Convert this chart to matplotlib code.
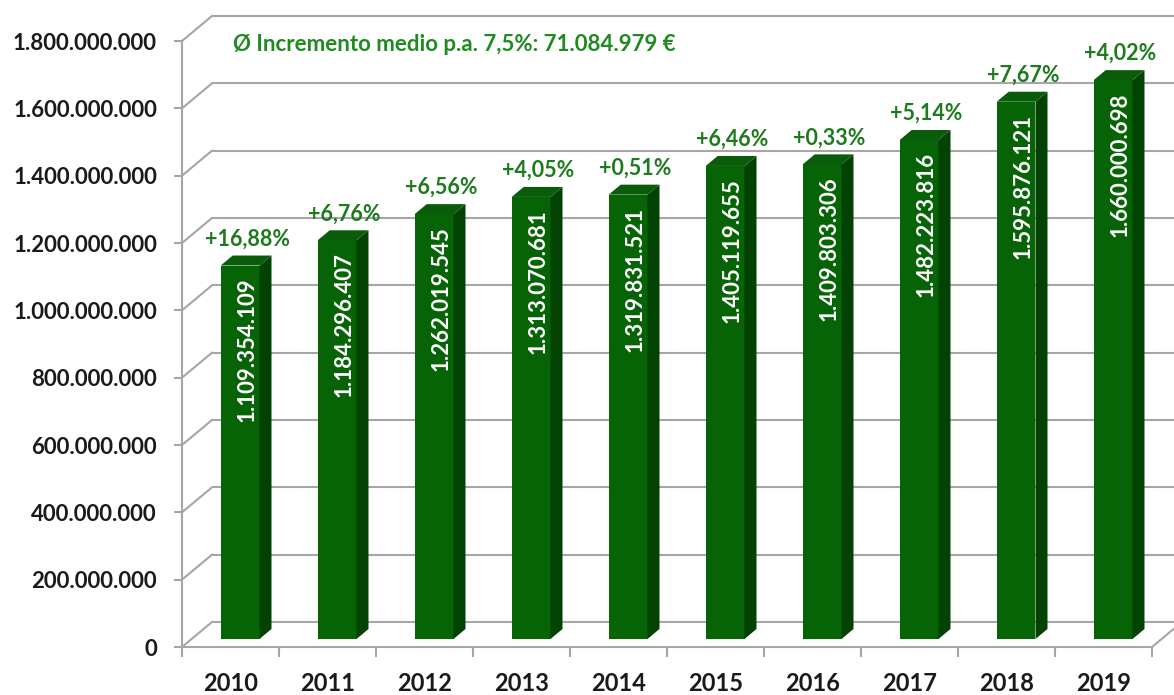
import matplotlib
matplotlib.use("Agg")
import matplotlib.pyplot as plt
from matplotlib.patches import Polygon
from matplotlib.ticker import FixedLocator, NullFormatter

years = ["2010", "2011", "2012", "2013", "2014", "2015", "2016", "2017", "2018", "2019"]
values = [1109354109, 1184296407, 1262019545, 1313070681, 1319831521,
          1405119655, 1409803306, 1482223816, 1595876121, 1660000698]
value_labels = ["1.109.354.109", "1.184.296.407", "1.262.019.545", "1.313.070.681",
                "1.319.831.521", "1.405.119.655", "1.409.803.306", "1.482.223.816",
                "1.595.876.121", "1.660.000.698"]
pct_labels = ["+16,88%", "+6,76%", "+6,56%", "+4,05%", "+0,51%",
              "+6,46%", "+0,33%", "+5,14%", "+7,67%", "+4,02%"]
yticks = [0, 200000000, 400000000, 600000000, 800000000, 1000000000,
          1200000000, 1400000000, 1600000000, 1800000000]
ytick_labels = ["0", "200.000.000", "400.000.000", "600.000.000", "800.000.000",
                "1.000.000.000", "1.200.000.000", "1.400.000.000", "1.600.000.000",
                "1.800.000.000"]
note = "Ø Incremento medio p.a. 7,5%: 71.084.979 €"

FONT = ["Lato", "DejaVu Sans"]
plt.rcParams['font.family'] = FONT

W, H = 1174, 695
fig = plt.figure(figsize=(W / 100, H / 100), dpi=100)
ax = fig.add_axes([182 / W, (H - 647) / H, 970 / W, 606 / H])
n = len(values)
ax.set_xlim(-0.5, n - 0.5)
ax.set_ylim(0, 1.8e9)

# pixel -> data conversion
sx = 970 / n            # px per x unit
sy = 606 / 1.8e9        # px per y unit
DX, DY = 30, 25         # depth vector in px


def dx(f):
    return f * DX / sx


def dy(f):
    return f * DY / sy


grid_col = "#a6a6a6"
# back wall gridlines + side wall diagonals
for v in yticks:
    ax.plot([-0.5 + dx(1), n + 1], [v + dy(1), v + dy(1)], color=grid_col, lw=1.5,
            clip_on=False, zorder=1, solid_capstyle='butt')
    ax.plot([-0.5, -0.5 + dx(1)], [v, v + dy(1)], color=grid_col, lw=1.5,
            clip_on=False, zorder=1)
# floor right edge
ax.plot([n - 0.5, n - 0.5 + dx(1)], [0, dy(1)], color=grid_col, lw=1.5, clip_on=False, zorder=1)

# bars
f0, f1 = 0.32, 0.72
bw = 0.40
front_col = "#066306"
side_col = "#024202"
top_col = "#0a5c0a"
x = list(range(n))
ax.bar([i + dx(f0) for i in x], values, width=bw,
       bottom=dy(f0), color=front_col, zorder=3, clip_on=False)
for i, v in zip(x, values):
    xl = i + dx(f0) - bw / 2
    xr = i + dx(f0) + bw / 2
    side = Polygon([(xr, dy(f0)), (xr + dx(f1 - f0), dy(f1)),
                    (xr + dx(f1 - f0), v + dy(f1)), (xr, v + dy(f0))],
                   closed=True, facecolor=side_col, edgecolor='none', zorder=3, clip_on=False)
    top = Polygon([(xl, v + dy(f0)), (xr, v + dy(f0)),
                   (xr + dx(f1 - f0), v + dy(f1)), (xl + dx(f1 - f0), v + dy(f1))],
                  closed=True, facecolor=top_col, edgecolor='none', zorder=3, clip_on=False)
    ax.add_patch(side)
    ax.add_patch(top)

# value labels inside bars
for i, v, lab in zip(x, values, value_labels):
    ax.text(i + dx(f0) + 7 / sx, v + dy(f0) - 12 / sy, lab, rotation=90,
            ha='center', va='top', color='white', fontsize=16, fontweight='bold',
            zorder=5)

# percentage labels
pct_col = "#1d7a1d"
for i, v, lab in zip(x, values, pct_labels):
    ax.text(i + dx(0.55), v + dy(f1) + 6 / sy, lab, ha='center', va='bottom',
            color=pct_col, fontsize=15.5, fontweight='bold', zorder=5)

# note
ax.text(-0.5 + 51 / sx, 1.8e9 - 3 / sy, note, ha='left', va='center',
        color="#1f8a1f", fontsize=16, fontweight='bold')

# axes styling
for s in ['top', 'right']:
    ax.spines[s].set_visible(False)
for s in ['left', 'bottom']:
    ax.spines[s].set_color(grid_col)
    ax.spines[s].set_linewidth(1.5)
    ax.spines[s].set_zorder(2)
ax.set_yticks(yticks)
ax.set_yticklabels(ytick_labels, fontsize=16, fontweight='bold', color='#1a1a1a')
ax.tick_params(axis='y', length=6, width=1.5, color=grid_col, pad=12)
ax.set_xticks(x)
ax.set_xticklabels(years, fontsize=17, fontweight='bold', color='#1a1a1a')
ax.tick_params(axis='x', which='major', length=0, pad=18)
ax.xaxis.set_minor_locator(FixedLocator([i - 0.5 for i in range(n + 1)]))
ax.xaxis.set_minor_formatter(NullFormatter())
ax.tick_params(axis='x', which='minor', length=7, width=1.5, color=grid_col)
ax.set_facecolor('none')

fig.savefig("out.png", dpi=100)
